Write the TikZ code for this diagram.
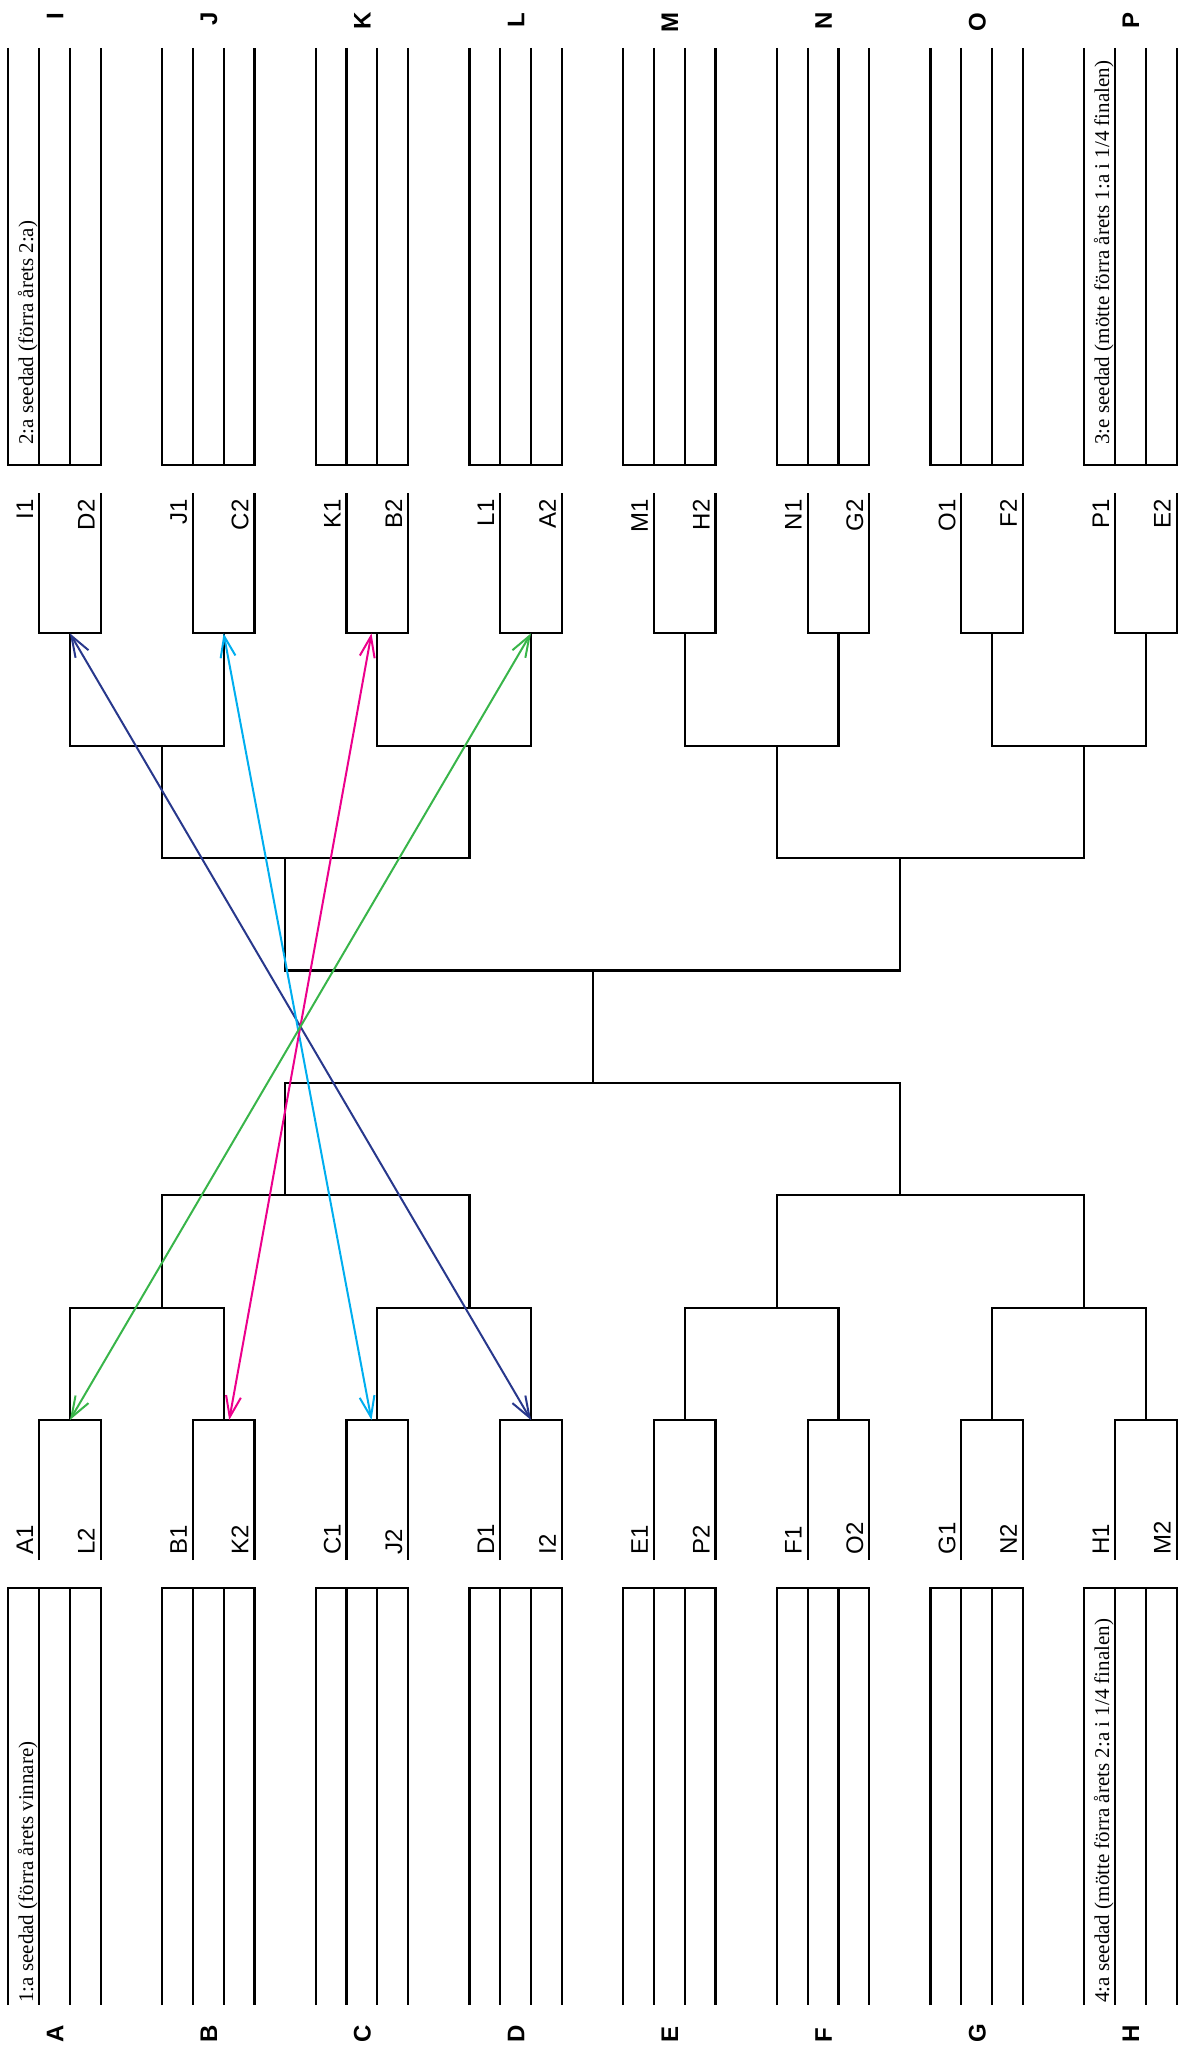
\documentclass[tikz,border=0pt]{standalone}
\usepackage{fontspec}
\setmainfont{Liberation Serif}
\newfontfamily\arialfont{Liberation Sans}
\usetikzlibrary{arrows.meta, positioning, calc}

\definecolor{swapnavy}{RGB}{40,56,140}
\definecolor{swapcyan}{RGB}{0,174,239}
\definecolor{swappink}{RGB}{236,0,140}
\definecolor{swapgreen}{RGB}{57,181,74}

\tikzset{
  bracket/.style={line width=1.1pt, black},
  teamlab/.style={font=\arialfont\fontsize{12}{12}\selectfont, rotate=90, inner sep=0pt},
  grouplab/.style={font=\arialfont\bfseries\fontsize{12}{12}\selectfont, rotate=90, inner sep=0pt},
  seedtext/.style={font=\fontsize{10.5}{11}\selectfont, rotate=90, inner sep=0pt, anchor=base west},
  swaparrow/.style={line width=1pt, <->, >={Straight Barb[length=10.5pt,width=7.5pt]}}
}

\begin{document}
\begin{tikzpicture}[x=0.5pt, y=-0.5pt]
\useasboundingbox (0,0) rectangle (1184,2055);

% groups, boxes and labels (top row I-P, bottom row A-H)
\foreach \i/\up/\dn/\upb/\dnb in {0/I/A/D/L, 1/J/B/C/K, 2/K/C/B/J, 3/L/D/A/I,
                                   4/M/E/H/P, 5/N/F/G/O, 6/O/G/F/N, 7/P/H/E/M}{
  \pgfmathsetmacro{\xg}{8.3+153.7*\i}
  % group tables
  \draw[bracket] (\xg,48) |- (\xg+92.4,465) -- (\xg+92.4,48);
  \draw[bracket] (\xg,2005) |- (\xg+92.4,1588.3) -- (\xg+92.4,2005);
  \foreach \d in {30.8,61.6}{
    \draw[bracket] (\xg+\d,48) -- (\xg+\d,465);
    \draw[bracket] (\xg+\d,1588.3) -- (\xg+\d,2005);
  }
  \node[grouplab, anchor=base east] (grp-\up) at (\xg+55,12) {\up};
  \node[grouplab, anchor=base west] (grp-\dn) at (\xg+55,2043) {\dn};
  % match boxes
  \draw[bracket] (\xg+30.8,493.3) |- (\xg+92.4,633.3) -- (\xg+92.4,493.3);
  \draw[bracket] (\xg+30.8,1560) |- (\xg+92.4,1420) -- (\xg+92.4,1560);
  \coordinate (\up-in) at (\xg+61.6,633.3);
  \coordinate (\dn-in) at (\xg+61.6,1420);
  \node[teamlab, anchor=base east] (lab-\up1) at (\xg+24.8,499) {\up1};
  \node[teamlab, anchor=base east] (lab-\upb2) at (\xg+86.4,499) {\upb2};
  \node[teamlab, anchor=base west] (lab-\dn1) at (\xg+24.8,1555) {\dn1};
  \node[teamlab, anchor=base west] (lab-\dnb2) at (\xg+86.4,1555) {\dnb2};
}

% seed notes
\node[seedtext] (seed-1) at (33,2003) {1:a seedad (förra årets vinnare)};
\node[seedtext] (seed-2) at (33,445) {2:a seedad (förra årets 2:a)};
\node[seedtext] (seed-3) at (1109.2,445) {3:e seedad (mötte förra årets 1:a i 1/4 finalen)};
\node[seedtext] (seed-4) at (1109.2,2003) {4:a seedad (mötte förra årets 2:a i 1/4 finalen)};

% bracket joins
\coordinate (IJ) at (162.0,745.7);   \coordinate (KL) at (469.4,745.7);
\coordinate (MN) at (776.8,745.7);   \coordinate (OP) at (1084.2,745.7);
\coordinate (IJKL) at (285.3,858.1); \coordinate (MNOP) at (900.3,858.1);
\coordinate (IP) at (592.7,970.5);
\coordinate (AB) at (162.0,1307.7);  \coordinate (CD) at (469.4,1307.7);
\coordinate (EF) at (776.8,1307.7);  \coordinate (GH) at (1084.2,1307.7);
\coordinate (ABCD) at (285.3,1195.3); \coordinate (EFGH) at (900.3,1195.3);
\coordinate (AH) at (592.7,1082.9);

\foreach \a/\b/\j in {A/B/AB, C/D/CD, E/F/EF, G/H/GH, I/J/IJ, K/L/KL, M/N/MN, O/P/OP}
  \draw[bracket] (\a-in) |- (\j) -| (\b-in);
\draw[bracket] (AB) |- (ABCD) -| (CD);
\draw[bracket] (EF) |- (EFGH) -| (GH);
\draw[bracket] (IJ) |- (IJKL) -| (KL);
\draw[bracket] (MN) |- (MNOP) -| (OP);
\draw[bracket] (ABCD) |- (AH) -| (EFGH);
\draw[bracket] (IJKL) |- (IP) -| (MNOP);
\draw[bracket] (IP) -- (AH);

% swaps between the halves
\draw[swaparrow, swapnavy] (I-in) -- (D-in);
\draw[swaparrow, swapcyan] (J-in) -- ($(C-in)+(-5.8,0)$);
\draw[swaparrow, swappink] ($(K-in)+(-5.8,0)$) -- ($(B-in)+(5.6,0)$);
\draw[swaparrow, swapgreen] (L-in) -- (A-in);
\end{tikzpicture}
\end{document}
